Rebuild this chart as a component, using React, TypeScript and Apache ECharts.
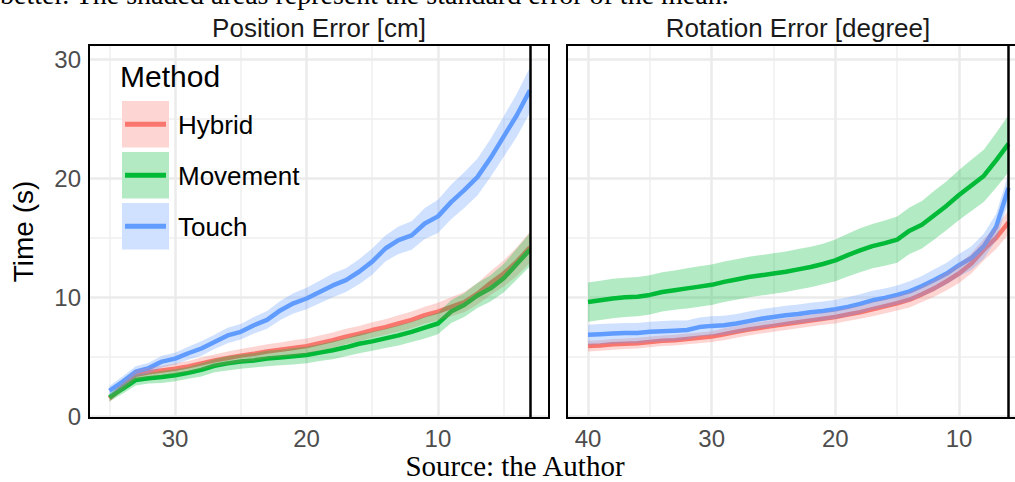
import React, { useEffect, useRef } from 'react';
import * as echarts from 'echarts';

const METHODS = ['Hybrid', 'Movement', 'Touch'];
const COLORS = ['#F8766D', '#00BA38', '#619CFF'];
const RIBBON_FILLS = ['rgba(248,118,109,0.3)', 'rgba(0,186,56,0.3)', 'rgba(97,156,255,0.3)'];
const KEY_FILLS = ['#FDD6D3', '#B3EAC3', '#D0E1FF'];

const PANEL_TITLES = ['Position Error [cm]', 'Rotation Error [degree]'];
const Y_TITLE = 'Time (s)';
const LEGEND_TITLE = 'Method';
const TOP_TEXT = 'better. The shaded areas represent the standard error of the mean.';
const SOURCE_TEXT = 'Source: the Author';

// Position Error panel
const POS_X = [35, 34, 33, 32, 31, 30, 29, 28, 27, 26, 25, 24, 23, 22, 21, 20, 19, 18, 17, 16, 15, 14, 13, 12, 11, 10, 9, 8, 7, 6, 5, 4, 3];
const POS_HYBRID = [1.5, 2.5, 3.5, 3.7, 3.85, 4.0, 4.2, 4.45, 4.7, 4.9, 5.1, 5.25, 5.45, 5.6, 5.75, 5.9, 6.15, 6.4, 6.7, 6.95, 7.25, 7.5, 7.8, 8.1, 8.5, 8.8, 9.2, 9.6, 10.3, 11.2, 12.0, 13.0, 14.2];
const POS_HYBRID_SE = [0.3, 0.35, 0.4, 0.4, 0.4, 0.45, 0.45, 0.5, 0.5, 0.55, 0.55, 0.6, 0.6, 0.6, 0.65, 0.65, 0.65, 0.65, 0.65, 0.65, 0.65, 0.65, 0.7, 0.7, 0.7, 0.75, 0.8, 0.85, 0.9, 1.0, 1.1, 1.2, 1.3];
const POS_MOVEMENT = [1.6, 2.3, 3.05, 3.2, 3.3, 3.45, 3.65, 3.9, 4.25, 4.45, 4.6, 4.7, 4.85, 4.95, 5.05, 5.15, 5.35, 5.55, 5.8, 6.1, 6.3, 6.55, 6.8, 7.1, 7.45, 7.8, 8.8, 9.35, 10.15, 10.75, 11.6, 12.8, 14.0];
const POS_MOVEMENT_SE = [0.35, 0.4, 0.45, 0.45, 0.5, 0.5, 0.5, 0.55, 0.55, 0.6, 0.6, 0.6, 0.65, 0.65, 0.7, 0.7, 0.7, 0.75, 0.75, 0.8, 0.8, 0.8, 0.85, 0.85, 0.9, 0.9, 0.95, 1.0, 1.05, 1.1, 1.2, 1.3, 1.4];
const POS_TOUCH = [2.15, 2.9, 3.75, 4.05, 4.6, 4.85, 5.3, 5.7, 6.25, 6.8, 7.1, 7.65, 8.1, 8.9, 9.5, 9.9, 10.45, 11.0, 11.45, 12.15, 13.0, 14.1, 14.8, 15.2, 16.2, 16.8, 18.0, 19.0, 20.1, 21.7, 23.5, 25.3, 27.4];
const POS_TOUCH_SE = [0.4, 0.45, 0.45, 0.45, 0.5, 0.5, 0.55, 0.6, 0.6, 0.65, 0.65, 0.7, 0.75, 0.8, 0.85, 0.9, 0.95, 1.0, 1.0, 1.05, 1.1, 1.1, 1.15, 1.2, 1.3, 1.4, 1.45, 1.5, 1.55, 1.6, 1.7, 1.8, 1.9];

// Rotation Error panel
const ROT_X = [40, 39, 38, 37, 36, 35, 34, 33, 32, 31, 30, 29, 28, 27, 26, 25, 24, 23, 22, 21, 20, 19, 18, 17, 16, 15, 14, 13, 12, 11, 10, 9, 8, 7, 6];
const ROT_HYBRID = [5.9, 5.95, 6.05, 6.1, 6.15, 6.25, 6.35, 6.4, 6.5, 6.6, 6.7, 6.9, 7.1, 7.3, 7.45, 7.6, 7.75, 7.9, 8.05, 8.2, 8.35, 8.55, 8.75, 9.0, 9.25, 9.5, 9.8, 10.25, 10.75, 11.35, 12.0, 12.85, 14.0, 15.0, 16.3];
const ROT_HYBRID_SE = [0.45, 0.45, 0.45, 0.45, 0.45, 0.45, 0.45, 0.45, 0.45, 0.45, 0.45, 0.5, 0.5, 0.5, 0.5, 0.5, 0.5, 0.5, 0.5, 0.5, 0.55, 0.55, 0.55, 0.6, 0.6, 0.6, 0.65, 0.65, 0.7, 0.75, 0.8, 0.85, 0.9, 0.95, 1.0];
const ROT_MOVEMENT = [9.6, 9.75, 9.9, 10.0, 10.05, 10.2, 10.45, 10.6, 10.75, 10.9, 11.05, 11.3, 11.5, 11.7, 11.85, 12.0, 12.15, 12.35, 12.55, 12.8, 13.1, 13.55, 13.95, 14.3, 14.55, 14.85, 15.6, 16.1, 16.9, 17.7, 18.6, 19.4, 20.2, 21.5, 22.9];
const ROT_MOVEMENT_SE = [1.65, 1.65, 1.65, 1.65, 1.65, 1.65, 1.65, 1.65, 1.7, 1.7, 1.7, 1.7, 1.7, 1.7, 1.7, 1.7, 1.7, 1.7, 1.7, 1.7, 1.75, 1.8, 1.85, 1.85, 1.9, 1.95, 1.95, 2.0, 2.05, 2.05, 2.1, 2.15, 2.2, 2.3, 2.4];
const ROT_TOUCH = [6.85, 6.9, 6.95, 7.0, 7.0, 7.1, 7.15, 7.2, 7.25, 7.5, 7.6, 7.65, 7.8, 8.0, 8.2, 8.35, 8.5, 8.6, 8.75, 8.85, 9.0, 9.2, 9.45, 9.75, 9.95, 10.2, 10.5, 10.95, 11.45, 12.0, 12.7, 13.3, 14.3, 15.9, 19.2];
const ROT_TOUCH_SE = [0.85, 0.85, 0.85, 0.85, 0.85, 0.85, 0.85, 0.85, 0.8, 0.8, 0.8, 0.8, 0.8, 0.8, 0.8, 0.8, 0.8, 0.8, 0.8, 0.8, 0.8, 0.8, 0.8, 0.8, 0.8, 0.8, 0.85, 0.85, 0.9, 0.9, 0.95, 1.0, 1.05, 1.1, 1.2];

// axes
const Y_TICKS = [0, 10, 20, 30];
const Y_MINOR = [5, 15, 25];
const POS_X_TICKS = [30, 20, 10];
const POS_X_MINOR = [35, 25, 15, 5];
const ROT_X_TICKS = [40, 30, 20, 10];
const ROT_X_MINOR = [35, 25, 15, 5];
const POS_END = 3;
const ROT_END = 6;

const SANS = "'Liberation Sans', Arial, Helvetica, sans-serif";
const SERIF = "'Liberation Serif', 'Times New Roman', serif";

function panelSeries(p: number, xs: number[], means: number[][], ses: number[][], ticks: number[], minor: number[], endX: number) {
  const out: any[] = [];
  // grid lines
  out.push({
    type: 'line', xAxisIndex: p, yAxisIndex: p, data: [], silent: true, z: 1,
    markLine: {
      silent: true, symbol: 'none', z: 1, animation: false, label: { show: false },
      emphasis: { disabled: true },
      data: [
        ...minor.map((v) => ({ xAxis: v, lineStyle: { color: '#EFEFEF', width: 1.5, type: 'solid' } })),
        ...Y_MINOR.map((v) => ({ yAxis: v, lineStyle: { color: '#EFEFEF', width: 1.5, type: 'solid' } })),
        ...ticks.map((v) => ({ xAxis: v, lineStyle: { color: '#EBEBEB', width: 2.5, type: 'solid' } })),
        ...Y_TICKS.map((v) => ({ yAxis: v, lineStyle: { color: '#EBEBEB', width: 2.5, type: 'solid' } })),
      ],
    },
  });
  means.forEach((m, i) => {
    out.push({
      type: 'line', name: METHODS[i], xAxisIndex: p, yAxisIndex: p, z: 2, silent: true,
      data: xs.map((x, j) => [x, m[j]]), symbol: 'none',
      lineStyle: { color: COLORS[i], width: 4.5 },
    });
  });
  means.forEach((m, i) => {
    const rows = xs.map((x, j) => [x, m[j] - ses[i][j], m[j] + ses[i][j]]);
    out.push({
      type: 'custom', xAxisIndex: p, yAxisIndex: p, z: 3, silent: true,
      data: rows,
      encode: { x: 0, y: [1, 2] },
      renderItem: (params: any, api: any) => {
        if (params.dataIndex !== 0) return null;
        const upper = rows.map((r) => api.coord([r[0], r[2]]));
        const lower = rows.map((r) => api.coord([r[0], r[1]])).reverse();
        return {
          type: 'polygon',
          shape: { points: upper.concat(lower) },
          style: { fill: RIBBON_FILLS[i], stroke: 'none' },
        };
      },
    });
  });
  // end marker line
  out.push({
    type: 'line', xAxisIndex: p, yAxisIndex: p, data: [], silent: true, z: 10,
    markLine: {
      silent: true, symbol: 'none', z: 10, animation: false, label: { show: false },
      emphasis: { disabled: true },
      data: [{ xAxis: endX, lineStyle: { color: '#000', width: 2.5, type: 'solid' } }],
    },
  });
  return out;
}

export default function App() {
  const ref = useRef<HTMLDivElement>(null);
  useEffect(() => {
    if (!ref.current) return;
    const chart = echarts.init(ref.current, undefined, { renderer: 'svg' });
    const xAxisCommon = {
      type: 'value', inverse: true,
      axisLine: { show: false }, axisTick: { show: false }, splitLine: { show: false },
    };
    const legendItems: any[] = [];
    METHODS.forEach((name, i) => {
      const y0 = 101 + i * 51;
      legendItems.push({ type: 'rect', shape: { x: 122, y: y0, width: 47, height: 46.5 }, style: { fill: KEY_FILLS[i] }, z: 50 });
      legendItems.push({ type: 'line', shape: { x1: 125, y1: y0 + 23.3, x2: 166, y2: y0 + 23.3 }, style: { stroke: COLORS[i], lineWidth: 5 }, z: 51 });
      legendItems.push({ type: 'text', x: 178, y: y0 + 24, z: 51, style: { text: name, font: '26px ' + SANS, fill: '#000', textAlign: 'left', textVerticalAlign: 'middle' } });
    });
    chart.setOption({
      animation: false,
      backgroundColor: '#fff',
      grid: [
        { left: 89, top: 45, width: 460, height: 373, show: true, borderColor: '#000', borderWidth: 2, backgroundColor: 'transparent', z: 20, containLabel: false },
        { left: 567, top: 45, width: 462.5, height: 373, show: true, borderColor: '#000', borderWidth: 2, backgroundColor: 'transparent', z: 20, containLabel: false },
      ],
      xAxis: [
        { ...xAxisCommon, gridIndex: 0, min: 1.55, max: 36.55,
          axisLabel: { customValues: POS_X_TICKS, color: '#4D4D4D', fontSize: 24, fontFamily: SANS, margin: 8, formatter: (v: number) => (v % 10 === 0 ? String(v) : '') } },
        { ...xAxisCommon, gridIndex: 1, min: 4.3, max: 41.7,
          axisLabel: { customValues: ROT_X_TICKS, color: '#4D4D4D', fontSize: 24, fontFamily: SANS, margin: 8, formatter: (v: number) => (v % 10 === 0 ? String(v) : '') } },
      ],
      yAxis: [
        { type: 'value', gridIndex: 0, min: -0.14, max: 31.2,
          axisLine: { show: false }, axisTick: { show: false }, splitLine: { show: false },
          axisLabel: { customValues: Y_TICKS, color: '#4D4D4D', fontSize: 24, fontFamily: SANS, margin: 8, formatter: (v: number) => (v % 10 === 0 ? String(v) : '') },
          name: Y_TITLE, nameLocation: 'middle', nameGap: 52,
          nameTextStyle: { color: '#000', fontSize: 28, fontFamily: SANS } },
        { type: 'value', gridIndex: 1, min: -0.14, max: 31.2,
          axisLine: { show: false }, axisTick: { show: false }, splitLine: { show: false },
          axisLabel: { show: false } },
      ],
      graphic: [
        { type: 'text', x: 0, y: 8, style: { text: TOP_TEXT, font: '28px ' + SERIF, fill: '#000', textAlign: 'left', textVerticalAlign: 'bottom' } },
        { type: 'text', x: 319, y: 28, style: { text: PANEL_TITLES[0], font: '26px ' + SANS, fill: '#1A1A1A', textAlign: 'center', textVerticalAlign: 'middle' } },
        { type: 'text', x: 798, y: 28, style: { text: PANEL_TITLES[1], font: '26px ' + SANS, fill: '#1A1A1A', textAlign: 'center', textVerticalAlign: 'middle' } },
        { type: 'text', x: 120, y: 76, z: 51, style: { text: LEGEND_TITLE, font: '30px ' + SANS, fill: '#000', textAlign: 'left', textVerticalAlign: 'middle' } },
        ...legendItems,
        { type: 'text', x: 515, y: 466, style: { text: SOURCE_TEXT, font: '29px ' + SERIF, fill: '#000', textAlign: 'center', textVerticalAlign: 'middle' } },
      ],
      series: [
        ...panelSeries(0, POS_X, [POS_HYBRID, POS_MOVEMENT, POS_TOUCH], [POS_HYBRID_SE, POS_MOVEMENT_SE, POS_TOUCH_SE], POS_X_TICKS, POS_X_MINOR, POS_END),
        ...panelSeries(1, ROT_X, [ROT_HYBRID, ROT_MOVEMENT, ROT_TOUCH], [ROT_HYBRID_SE, ROT_MOVEMENT_SE, ROT_TOUCH_SE], ROT_X_TICKS, ROT_X_MINOR, ROT_END),
      ],
    });
    return () => chart.dispose();
  }, []);
  return (
    <div style={{ position: 'absolute', left: 0, top: 0, width: 1015, height: 482, overflow: 'hidden', background: '#fff' }}>
      <div ref={ref} style={{ position: 'absolute', left: 0, top: 0, width: 1040, height: 482 }} />
    </div>
  );
}
